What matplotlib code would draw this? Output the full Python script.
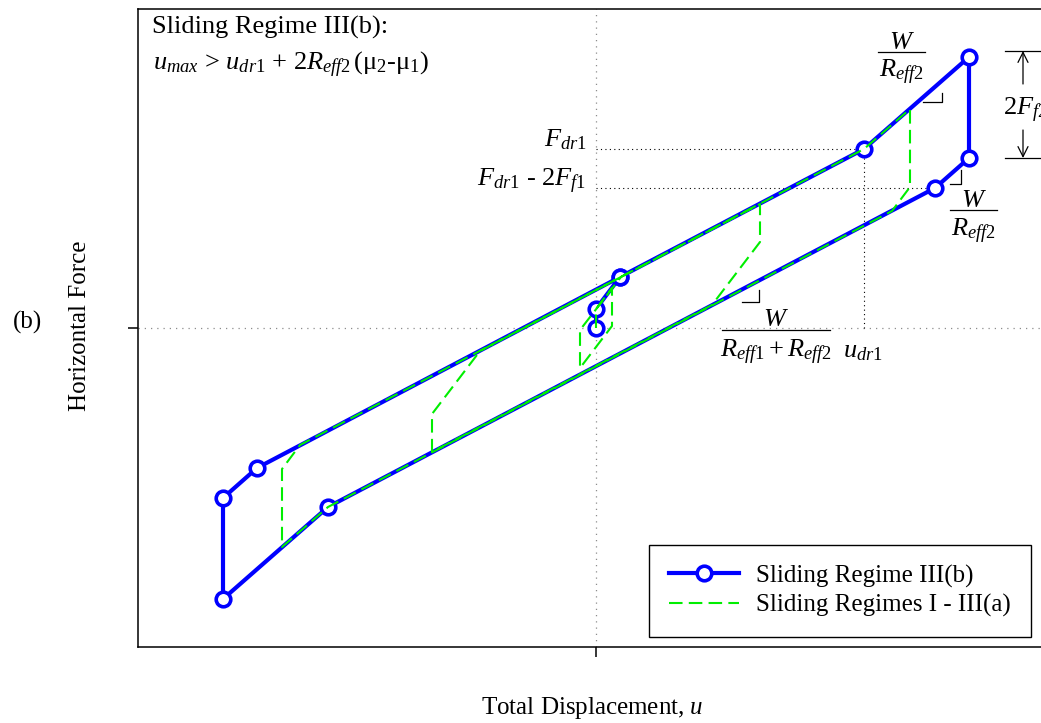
import numpy as np
import matplotlib
matplotlib.use("Agg")
import matplotlib.pyplot as plt

plt.rcParams['font.family'] = ['Liberation Serif', 'DejaVu Serif']
plt.rcParams['mathtext.fontset'] = 'custom'
plt.rcParams['mathtext.rm'] = 'Liberation Serif'
plt.rcParams['mathtext.it'] = 'Liberation Serif:italic'
plt.rcParams['mathtext.bf'] = 'Liberation Serif:bold'
plt.rcParams['mathtext.fallback'] = 'stix'

# regime III(b) loop: displacement / force at the breakpoints
u_b = [0, 0, 24, 268, 373, 373, 339, -268, -373, -373, -339, 24]
F_b = [0, 19, 51, 179, 271, 170, 140, -179, -271, -170, -140, 51]

# regimes I - III(a): three loops of growing amplitude
u_a = [0, 0, 16, 16, -16, -16, 25, 164, 164, 116, -164, -164, -116,
       268, 314, 314, 296, -268, -314, -314, -296, 25]
F_a = [0, 19, 40, 2, -40, -2, 51, 124, 86, 23, -124, -86, -23,
       179, 219, 141, 117, -179, -219, -141, -117, 51]

u_dr1 = 268
F_dr1 = 179
F_dr1_2Ff1 = 140

W, H = 1041, 723
fig = plt.figure(figsize=(W / 100, H / 100), dpi=100)
ax = fig.add_axes([138 / W, 1 - 647 / H, (1054 - 138) / W, (647 - 9) / H])
ax.set_xlim(-458, 458)
ax.set_ylim(-319, 319)

ax.plot(u_b, F_b, '-o', color='blue', lw=3.0, ms=10.5, mew=2.6,
        mfc='white', mec='blue', zorder=3, label='Sliding Regime III(b)')
ax.plot(u_a, F_a, color='#00ee00', lw=1.5, dashes=(6.5, 3), zorder=4,
        label='Sliding Regimes I - III(a)')

# zero lines
ax.axhline(0, color='0.55', ls=(0, (1, 4)), lw=0.9, zorder=1)
ax.axvline(0, color='0.55', ls=(0, (1, 4)), lw=0.9, zorder=1)

# dotted guides to F_dr1, F_dr1 - 2F_f1 and u_dr1
dot = dict(color='k', ls=(0, (1, 3)), lw=0.8, zorder=1)
ax.plot([0, u_dr1], [F_dr1, F_dr1], **dot)
ax.plot([0, 339], [F_dr1_2Ff1, F_dr1_2Ff1], **dot)
ax.plot([u_dr1, u_dr1], [0, F_dr1], **dot)

# slope corner marks
ax.plot([327, 346, 346], [226, 226, 235], color='k', lw=0.9)
ax.plot([354, 365, 365], [144, 144, 158], color='k', lw=0.9)
ax.plot([146, 163, 163], [26, 26, 38], color='k', lw=0.9)

# 2F_f2 dimension
ax.plot([409, 470], [277, 277], color='k', lw=0.9, clip_on=False)
ax.plot([409, 470], [170, 170], color='k', lw=0.9, clip_on=False)
ax.annotate('', xy=(427, 277), xytext=(427, 244),
            arrowprops=dict(arrowstyle='->', lw=0.9, color='k',
                            shrinkA=0, shrinkB=0, mutation_scale=18))
ax.annotate('', xy=(427, 170), xytext=(427, 198),
            arrowprops=dict(arrowstyle='->', lw=0.9, color='k',
                            shrinkA=0, shrinkB=0, mutation_scale=18))
ax.text(407, 213, '2$F_{f2}$', fontsize=19, va='baseline', ha='left')


def frac(x0, x1, y_bar, y_num, y_den, num, den):
    ax.plot([x0, x1], [y_bar, y_bar], color='k', lw=0.9)
    xc = (x0 + x1) / 2
    ax.text(xc, y_num, num, fontsize=19, ha='center', va='baseline')
    ax.text(xc, y_den, den, fontsize=19, ha='center', va='baseline')


frac(282, 329, 276, 279, 251, '$W$', '$R_{eff2}$')
frac(354, 401, 118, 121, 92, '$W$', '$R_{eff2}$')
frac(126, 234, -2, 2, -29, '$W$', '$R_{eff1} + R_{eff2}$')
ax.text(247, -29, '$u_{dr1}$', fontsize=19, ha='left', va='baseline')

ax.text(-444, 294, 'Sliding Regime III(b):', fontsize=19, va='baseline')
ax.text(-443, 258, r'$u_{max}$ > $u_{dr1}$ + 2$R_{eff2}\,$(μ$_2$-μ$_1$)',
        fontsize=19, va='baseline')
ax.text(-9, 182, '$F_{dr1}$', fontsize=19, ha='right', va='baseline')
ax.text(-10, 142, '$F_{dr1}$ - 2$F_{f1}$', fontsize=19, ha='right', va='baseline')

ax.set_xticks([0])
ax.set_yticks([0])
ax.set_xticklabels([])
ax.set_yticklabels([])
ax.tick_params(direction='out', length=7, width=1.1)
for s in ax.spines.values():
    s.set_linewidth(1.1)

fs = 18
fig.text(592 / W, 1 - 708 / H, 'Total Displacement, $u$', fontsize=fs,
         ha='center', va='center')
fig.text(80 / W, 1 - 326 / H, 'Horizontal Force', fontsize=fs,
         rotation=90, ha='center', va='center')
fig.text(27 / W, 1 - 322 / H, '(b)', fontsize=fs, ha='center', va='center')

leg = ax.legend(loc='lower right', bbox_to_anchor=(1031 / W, 1 - 637 / H),
                bbox_transform=fig.transFigure, borderaxespad=0, fontsize=fs,
                handlelength=2.8, handletextpad=0.7, labelspacing=0.25,
                fancybox=False, framealpha=1, edgecolor='k', borderpad=0.8)
leg.get_frame().set_linewidth(1.0)

fig.savefig('out.png', dpi=100)
